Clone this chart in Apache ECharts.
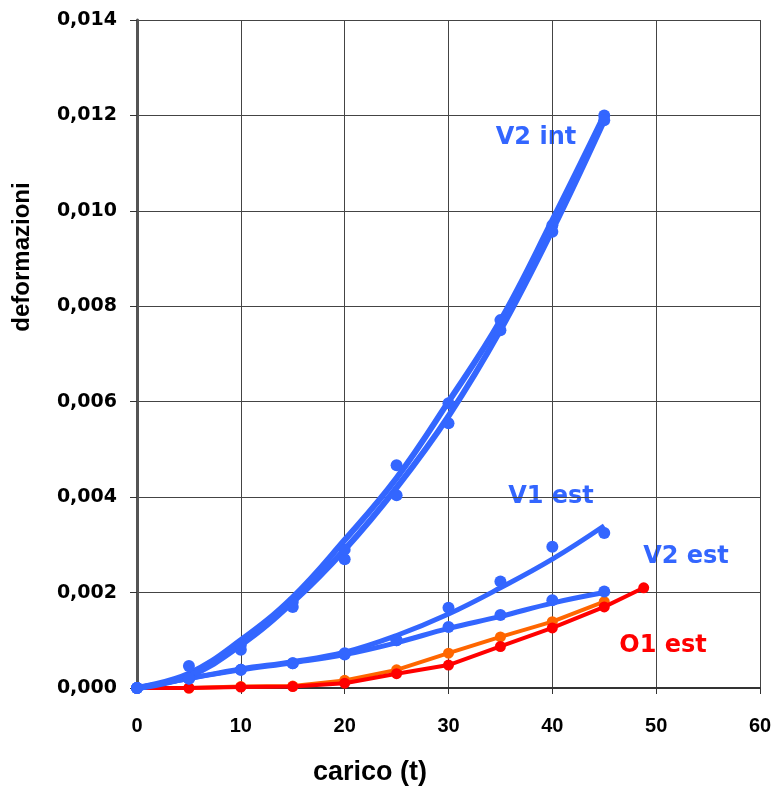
<!DOCTYPE html>
<html>
<head>
<meta charset="utf-8">
<script src="https://cdn.jsdelivr.net/npm/echarts@6/dist/echarts.min.js"></script>
<style>html,body{margin:0;padding:0;background:#fff}#c{width:776px;height:793px}</style>
</head>
<body>
<div id="c"></div>
<script>
// ---- data ----
var loads = [0, 5, 10, 15, 20, 25, 30, 35, 40, 45];
// V2 int: two gauges (markers) and their trend curves
var v2intA_pts = [0, 0.00046, 0.0008, 0.0017, 0.0027, 0.00467, 0.00597, 0.00771, 0.0097, 0.0120];
var v2intB_pts = [0, 0.0002, 0.0009, 0.0018, 0.0029, 0.00404, 0.00555, 0.0075, 0.00956, 0.0119];
var v2intA_trend = [0, 0.0003, 0.001, 0.0019, 0.0031, 0.0044, 0.006, 0.0077, 0.0098, 0.0120];
var v2intB_trend = [0, 0.00025, 0.0009, 0.0018, 0.0029, 0.0042, 0.0057, 0.0075, 0.0096, 0.0119];
// V1 est
var v1est_pts = [0, 0.0002, 0.00038, 0.00052, 0.00073, 0.001, 0.00168, 0.00223, 0.00296, 0.00325];
var v1est_trend = [0, 0.0002, 0.0004, 0.00055, 0.00075, 0.0011, 0.00155, 0.0021, 0.0027, 0.0034];
// V2 est
var v2est_pts = [0, 0.0002, 0.00038, 0.00052, 0.0007, 0.001, 0.00128, 0.00153, 0.00184, 0.00202];
var v2est_trend = [0, 0.0002, 0.00038, 0.00053, 0.0007, 0.00095, 0.00125, 0.0015, 0.00178, 0.002];
// orange (unlabelled) and O1 est (red)
var orange_vals = [0, 0, 0.00003, 0.00004, 0.00016, 0.00038, 0.00073, 0.00107, 0.00139, 0.00181];
var o1_loads = [0, 5, 10, 15, 20, 25, 30, 35, 40, 45, 48.8];
var o1_vals = [0, 0, 0.00002, 0.00003, 0.0001, 0.0003, 0.00048, 0.00087, 0.00126, 0.0017, 0.0021];

var xTicks = [0, 10, 20, 30, 40, 50, 60];
var yTicks = [0, 0.002, 0.004, 0.006, 0.008, 0.010, 0.012, 0.014];
var xTitle = 'carico (t)';
var yTitle = 'deformazioni';

function pairs(xs, ys) { return xs.map(function (x, i) { return [x, ys[i]]; }); }

var BLUE = '#3366FF', ORANGE = '#FF6600', RED = '#FF0000';

function trend(name, ys, color, w) {
  return { name: name, type: 'line', data: pairs(loads, ys), smooth: 0.4, showSymbol: false, symbol: 'none',
    lineStyle: { color: color, width: w }, z: 5, silent: true };
}
function pts(name, ys, color) {
  return { name: name, type: 'scatter', data: pairs(loads, ys), symbol: 'circle', symbolSize: 12,
    itemStyle: { color: color, opacity: 1 }, z: 6, silent: true };
}

var chart = echarts.init(document.getElementById('c'), null, { renderer: 'canvas' });
chart.setOption({
  animation: false,
  backgroundColor: '#fff',
  grid: { left: 137, right: 16, top: 20, bottom: 105, containLabel: false },
  xAxis: {
    type: 'value', min: 0, max: 60, interval: 10,
    axisLine: { show: true, onZero: false, lineStyle: { color: '#333', width: 2 } },
    axisTick: { show: true, inside: false, length: 6, lineStyle: { color: '#333', width: 1 } },
    axisLabel: { margin: 28, fontFamily: 'Liberation Sans', fontWeight: 'bold', fontSize: 20, color: '#000',
      formatter: function (v) { return xTicks.indexOf(v) >= 0 ? String(v) : ''; } },
    splitLine: { show: true, lineStyle: { color: '#444', width: 1 } }
  },
  yAxis: {
    type: 'value', min: 0, max: 0.014, interval: 0.002,
    axisLine: { show: true, lineStyle: { color: '#555', width: 3 } },
    axisTick: { show: true, inside: false, length: 7, lineStyle: { color: '#333', width: 1 } },
    axisLabel: { margin: 20, fontFamily: 'DejaVu Sans', fontWeight: 'bold', fontSize: 19, color: '#000',
      formatter: function (v) { return v.toFixed(3).replace('.', ','); } },
    splitLine: { show: true, lineStyle: { color: '#444', width: 1 } }
  },
  series: [
    { name: 'orange', type: 'line', data: pairs(loads, orange_vals), symbol: 'circle', symbolSize: 11,
      lineStyle: { color: ORANGE, width: 4 }, itemStyle: { color: ORANGE }, z: 3, silent: true },
    { name: 'O1 est', type: 'line', data: pairs(o1_loads, o1_vals), symbol: 'circle', symbolSize: 11,
      lineStyle: { color: RED, width: 4 }, itemStyle: { color: RED }, z: 4, silent: true },
    trend('V2 est trend', v2est_trend, BLUE, 5),
    pts('V2 est', v2est_pts, BLUE),
    trend('V1 est trend', v1est_trend, BLUE, 5),
    pts('V1 est', v1est_pts, BLUE),
    trend('V2 int trend A', v2intA_trend, BLUE, 6),
    trend('V2 int trend B', v2intB_trend, BLUE, 6),
    pts('V2 int A', v2intA_pts, BLUE),
    pts('V2 int B', v2intB_pts, BLUE)
  ],
  graphic: [
    { type: 'text', x: 370, y: 773, style: { text: xTitle, fill: '#000', font: 'bold 27px "Liberation Sans"', align: 'center', verticalAlign: 'middle' } },
    { type: 'text', x: 22, y: 257, rotation: Math.PI / 2, style: { text: yTitle, fill: '#000', font: 'bold 24px "Liberation Sans"', align: 'center', verticalAlign: 'middle' } },
    { type: 'text', x: 536, y: 138, style: { text: 'V2 int', fill: BLUE, font: 'bold 24px "DejaVu Sans"', align: 'center', verticalAlign: 'middle' } },
    { type: 'text', x: 551, y: 497, style: { text: 'V1 est', fill: BLUE, font: 'bold 24px "DejaVu Sans"', align: 'center', verticalAlign: 'middle' } },
    { type: 'text', x: 686, y: 557, style: { text: 'V2 est', fill: BLUE, font: 'bold 24px "DejaVu Sans"', align: 'center', verticalAlign: 'middle' } },
    { type: 'text', x: 663, y: 646, style: { text: 'O1 est', fill: RED, font: 'bold 24px "DejaVu Sans"', align: 'center', verticalAlign: 'middle' } }
  ]
});
</script>
</body>
</html>
